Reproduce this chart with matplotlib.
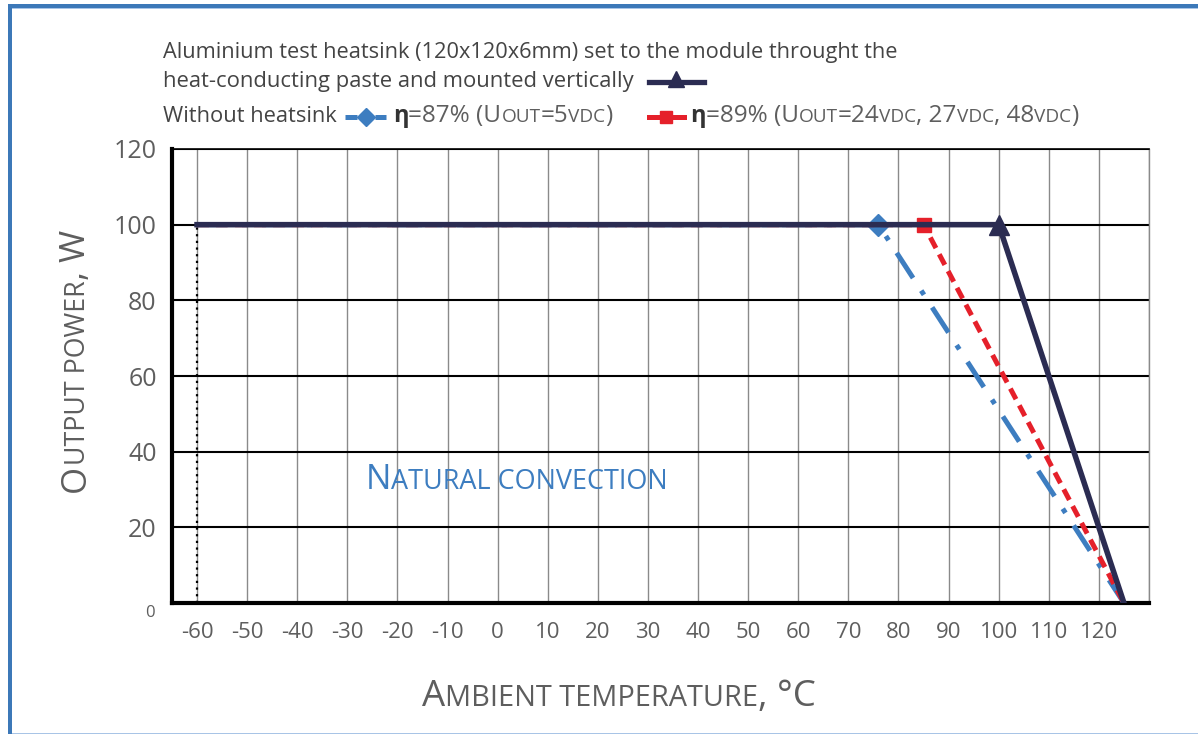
import matplotlib
matplotlib.use('Agg')
import matplotlib.pyplot as plt
from matplotlib.lines import Line2D
from matplotlib.patches import Rectangle
from matplotlib.transforms import IdentityTransform

# data
temp_heatsink = [-60, 100, 125]
power_heatsink = [100, 100, 0]
temp_87 = [-60, 76, 125]
power_87 = [100, 100, 0]
temp_89 = [-60, 85, 125]
power_89 = [100, 100, 0]
xticks = list(range(-60, 121, 10))
yticks = list(range(0, 121, 20))

NAVY = '#2b2c52'
BLUE = '#3d7dc0'
RED = '#e5202a'
GRAY = '#5e5e5e'
DARK = '#444444'

plt.rcParams['font.family'] = ['Open Sans', 'DejaVu Sans']
plt.rcParams['axes.unicode_minus'] = False

W, H = 1198, 734
fig = plt.figure(figsize=(W / 100, H / 100), dpi=100)
renderer = fig.canvas.get_renderer()

# blue frame
fig.add_artist(Rectangle((8, 0), 4, H - 4, transform=IdentityTransform(), color='#3c78b8', lw=0))
fig.add_artist(Rectangle((8, H - 8), W, 4, transform=IdentityTransform(), color='#3c78b8', lw=0))
fig.add_artist(Rectangle((12, H - 9), W, 1.5, transform=IdentityTransform(), color='#a8c4e6', lw=0))
fig.add_artist(Rectangle((12, 0), W, 1.5, transform=IdentityTransform(), color='#a8c4e6', lw=0))

ax_l, ax_r, ax_t, ax_b = 172, 1149, 149, 603
ax = fig.add_axes([ax_l / W, (H - ax_b) / H, (ax_r - ax_l) / W, (ax_b - ax_t) / H])

ax.plot(temp_87, power_87, color=BLUE, lw=3.6, dashes=(6, 3, 1, 3),
        marker='D', markevery=[1], ms=11, zorder=3)
ax.plot(temp_89, power_89, color=RED, lw=3.6, dashes=(2.4, 1.4),
        marker='s', markevery=[1], ms=10, zorder=4)
ax.plot(temp_heatsink, power_heatsink, color=NAVY, lw=4.0,
        marker='^', markevery=[1], ms=15, zorder=5)
ax.plot([-60, -60], [0, 100], color='black', lw=1.6, ls=(0, (1, 2)), zorder=2)

ax.set_xlim(-65, 130)
ax.set_ylim(0, 120)
ax.set_xticks(xticks)
ax.set_yticks(yticks)
ax.set_yticklabels([''] + [str(v) for v in yticks[1:]])
for x in xticks + [130]:
    ax.axvline(x, color='#8a8a8a', lw=1.0, zorder=1)
for y in yticks[1:]:
    ax.axhline(y, color='black', lw=1.5, zorder=1)
ax.tick_params(axis='both', length=0, colors=GRAY)
ax.tick_params(axis='x', labelsize=16, pad=14)
ax.tick_params(axis='y', labelsize=18, pad=11)
ax.annotate('0', xy=(0, 0), xycoords=('axes fraction', 'data'), xytext=(-17, -10),
            textcoords='offset pixels', ha='right', va='center', fontsize=12, color=GRAY)
ax.spines['left'].set_linewidth(3)
ax.spines['bottom'].set_linewidth(3)
ax.spines['top'].set_linewidth(1.2)
ax.spines['right'].set_color('#8a8a8a')
ax.spines['right'].set_linewidth(1.0)


def parts_text(x, y, parts, rot=0, fit=None):
    # x, y are pixels from the top-left corner, y is the baseline
    # fit: total length in pixels the text should span
    arts = []
    for s, size, color, weight in parts:
        t = fig.text(0, 0, s, fontsize=size, color=color, fontweight=weight,
                     transform=IdentityTransform(), ha='left', va='baseline')
        arts.append(t)
    widths = [t.get_window_extent(renderer).width for t in arts]
    if fit:
        k = fit / sum(widths)
        for t in arts:
            t.set_fontsize(t.get_fontsize() * k)
        widths = [t.get_window_extent(renderer).width for t in arts]
    pos = 0
    for t, w in zip(arts, widths):
        if rot == 0:
            t.set_position((x + pos, H - y))
        else:
            t.set_rotation(90)
            t.set_rotation_mode('anchor')
            t.set_position((x, H - y + pos))
        pos += w


# axis titles in small caps
parts_text(422, 706, [('A', 26, GRAY, 'normal'), ('MBIENT TEMPERATURE', 20.5, GRAY, 'normal'),
                      (', °C', 26, GRAY, 'normal')], fit=393)
parts_text(85, 492, [('O', 28, GRAY, 'normal'), ('UTPUT POWER', 21.5, GRAY, 'normal'),
                     (', W', 28, GRAY, 'normal')], rot=90, fit=262)
parts_text(366, 489, [('N', 24.5, BLUE, 'normal'), ('ATURAL CONVECTION', 19.5, BLUE, 'normal')],
           fit=302)

# legend block
parts_text(163, 58, [('Aluminium test heatsink (120x120x6mm) set to the module throught the',
                      15.6, DARK, 'normal')], fit=735)
parts_text(163, 87, [('heat-conducting paste and mounted vertically', 15.6, DARK, 'normal')],
           fit=469)
parts_text(163, 122, [('Without heatsink', 15.6, DARK, 'normal')], fit=174)
parts_text(393, 122, [('η', 16, '#333333', 'bold'), ('=87% (U', 16.5, GRAY, 'normal'),
                      ('OUT', 13, GRAY, 'normal'), ('=5', 16.5, GRAY, 'normal'),
                      ('VDC', 13, GRAY, 'normal'), (')', 16.5, GRAY, 'normal')], fit=219)
parts_text(690, 122, [('η', 16, '#333333', 'bold'), ('=89% (U', 16.5, GRAY, 'normal'),
                      ('OUT', 13, GRAY, 'normal'), ('=24', 16.5, GRAY, 'normal'),
                      ('VDC', 13, GRAY, 'normal'), (', 27', 16.5, GRAY, 'normal'),
                      ('VDC', 13, GRAY, 'normal'), (', 48', 16.5, GRAY, 'normal'),
                      ('VDC', 13, GRAY, 'normal'), (')', 16.5, GRAY, 'normal')], fit=387)

# legend keys
fig.add_artist(Line2D([649, 704], [H - 82, H - 82], transform=IdentityTransform(),
                      color=NAVY, lw=3.8))
fig.add_artist(Line2D([676], [H - 79], transform=IdentityTransform(), color=NAVY,
                      marker='^', ms=12, lw=0))
for x0, x1 in [(345, 357), (375, 386)]:
    fig.add_artist(Line2D([x0, x1], [H - 117, H - 117], transform=IdentityTransform(),
                          color=BLUE, lw=3.6, solid_capstyle='butt'))
fig.add_artist(Line2D([366], [H - 117], transform=IdentityTransform(), color=BLUE,
                      marker='D', ms=9, lw=0))
fig.add_artist(Line2D([649, 684], [H - 117, H - 117], transform=IdentityTransform(),
                      color=RED, lw=3.6))
fig.add_artist(Line2D([666], [H - 117], transform=IdentityTransform(), color=RED,
                      marker='s', ms=8, lw=0))

fig.savefig('out.png', dpi=100)
